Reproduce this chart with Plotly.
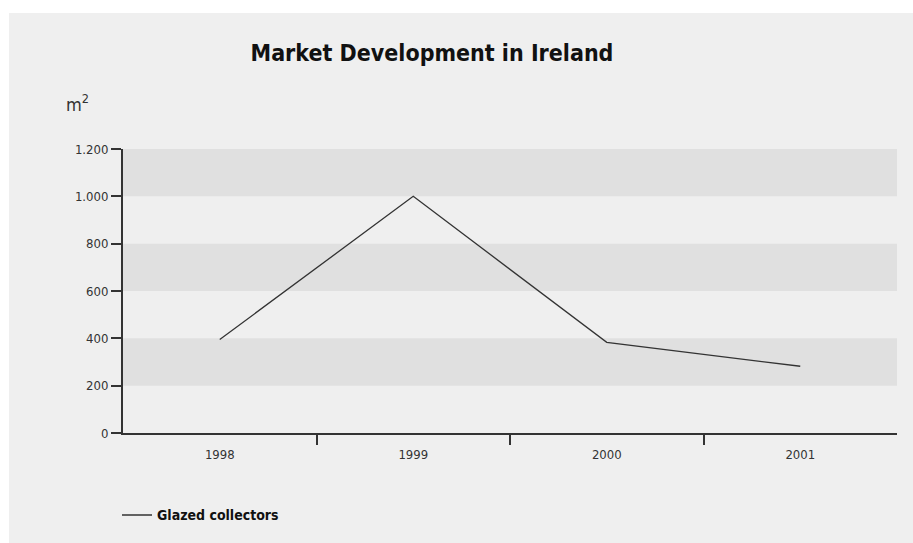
import plotly.graph_objects as go

# Market data: glazed solar collector area installed per year (m²)
years = ["1998", "1999", "2000", "2001"]
glazed = [395, 1000, 383, 282]

# y-axis ticks and the shaded horizontal bands
y_ticks = [0, 200, 400, 600, 800, 1000, 1200]
bands = [(200, 400), (600, 800), (1000, 1200)]

FONT = "DejaVu Sans Condensed, Liberation Sans Narrow, Arial Narrow, sans-serif"
INK = "#333333"

W, H = 913, 543
ML, MR, MT, MB = 123, 16, 149, 108
pw = W - ML - MR
ph = H - MT - MB

x_idx = list(range(len(years)))

fig = go.Figure()
fig.add_trace(go.Scatter(
    x=x_idx, y=glazed, mode="lines", name="Glazed collectors",
    line=dict(color=INK, width=1.3),
))

shapes = []
# light grey panel behind the whole chart, inset from the page edge
shapes.append(dict(
    type="rect", xref="paper", yref="paper", layer="below",
    x0=(9 - ML) / pw, x1=(W + 5 - ML) / pw,
    y0=(H - MB - H - 5) / ph, y1=(H - MB - 12) / ph,
    fillcolor="#efefef", line=dict(width=0),
))
for lo, hi in bands:
    shapes.append(dict(
        type="rect", xref="paper", yref="y", layer="below",
        x0=0, x1=1, y0=lo, y1=hi,
        fillcolor="#e0e0e0", line=dict(width=0),
    ))

fig.update_layout(
    width=W, height=H,
    margin=dict(l=ML, r=MR, t=MT, b=MB),
    paper_bgcolor="white",
    plot_bgcolor="rgba(0,0,0,0)",
    separators=",.",
    font=dict(family=FONT, color=INK, size=13),
    title=dict(
        text="<b>Market Development in Ireland</b>",
        x=432 / W, xanchor="center", y=1 - 53 / H, yanchor="middle",
        font=dict(family=FONT, size=23, color="#111111"),
    ),
    shapes=shapes,
    showlegend=True,
    legend=dict(
        orientation="h", x=(117 - ML) / pw, xanchor="left",
        y=(H - MB - 518) / ph, yanchor="middle",
        bgcolor="rgba(0,0,0,0)",
        font=dict(family=FONT, size=14, color="#111111", weight="bold"),
    ),
    xaxis=dict(
        type="linear", range=[-0.5, len(years) - 0.5],
        tickvals=x_idx, ticktext=years,
        ticks="outside", ticklen=8, tickcolor="rgba(0,0,0,0)",
        showgrid=False, zeroline=False,
        showline=True, linecolor=INK, linewidth=2,
        tickfont=dict(size=13),
    ),
    xaxis2=dict(
        overlaying="x", side="bottom", matches="x",
        range=[-0.5, len(years) - 0.5],
        tickvals=[i + 0.5 for i in x_idx[:-1]],
        ticks="outside", ticklen=11, tickwidth=2, tickcolor=INK,
        showticklabels=False, showgrid=False, zeroline=False, showline=False,
    ),
    yaxis=dict(
        range=[0, 1200], tickvals=y_ticks, tickformat=",d",
        ticks="outside", ticklen=10, tickwidth=1.5, tickcolor=INK,
        showgrid=False, zeroline=False,
        showline=True, linecolor=INK, linewidth=2,
        tickfont=dict(size=13),
    ),
    annotations=[dict(
        text="m<sup>2</sup>", xref="paper", yref="paper",
        x=(64 - ML) / pw, xanchor="left",
        y=(H - MB - 103) / ph, yanchor="middle",
        showarrow=False, font=dict(family=FONT, size=18, color=INK),
    )],
)

# keep the overlay axis alive so its boundary ticks render
fig.add_trace(go.Scatter(x=[None], y=[None], xaxis="x2", showlegend=False, hoverinfo="skip"))

fig.write_html("out.html")
